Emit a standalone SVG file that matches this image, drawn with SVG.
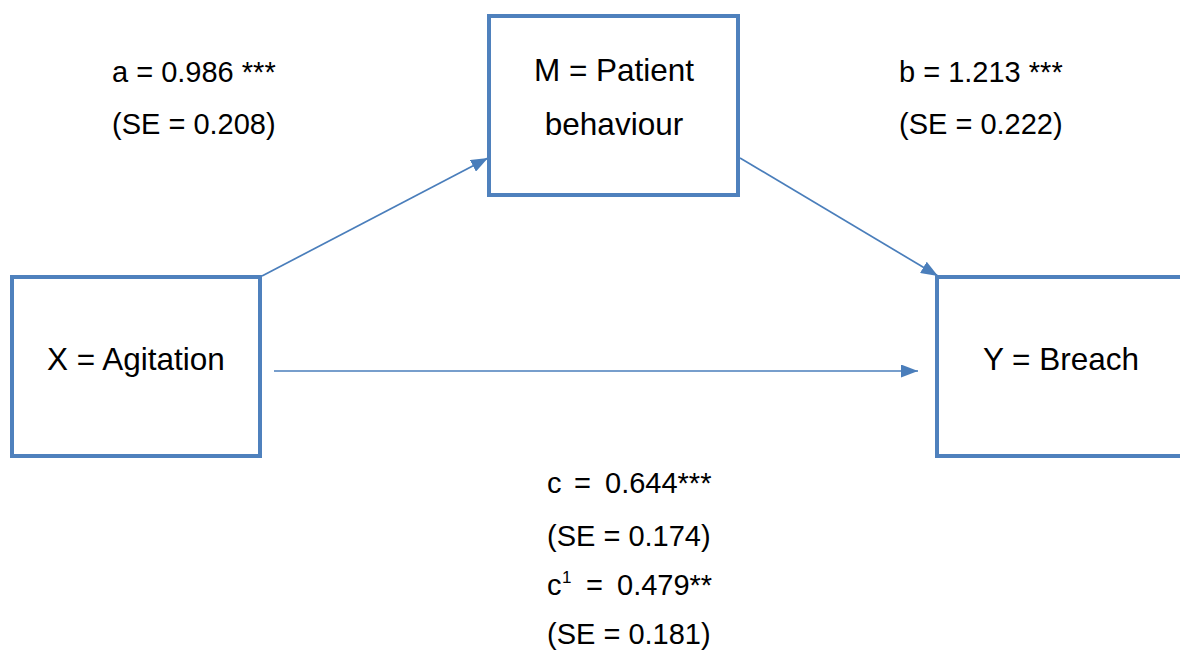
<svg xmlns="http://www.w3.org/2000/svg" width="1180" height="651" viewBox="0 0 1180 651">
<defs>
<style>
.box{fill:#fff;stroke:#4f81bd;stroke-width:4}
.lbl{font-family:"Liberation Sans",Arial,sans-serif;font-size:31.5px;fill:#000}
.est{font-family:"Liberation Sans",Arial,sans-serif;font-size:29px;fill:#000}
.con{stroke:#4a7ebb;stroke-width:1.7;fill:none;marker-end:url(#arr)}
</style>
<marker id="arr" viewBox="0 0 10 10" refX="10" refY="5" markerWidth="17" markerHeight="13" markerUnits="userSpaceOnUse" orient="auto" preserveAspectRatio="none">
<path d="M0,0 L10,5 L0,10 z" fill="#4a7ebb"/>
</marker>
</defs>
<rect width="1180" height="651" fill="#fff"/>
<g id="connectors">
<line class="con" x1="262" y1="276" x2="488" y2="158"/>
<line class="con" x1="740" y1="158" x2="938" y2="276"/>
<line class="con" x1="274" y1="371" x2="918" y2="371"/>
</g>
<g id="node-x">
<rect class="box" x="12" y="277" width="248" height="179"/>
<text class="lbl" x="136" y="370" text-anchor="middle">X = Agitation</text>
</g>
<g id="node-m">
<rect class="box" x="489" y="16" width="249" height="179"/>
<text class="lbl" x="614" y="81" text-anchor="middle">M = Patient</text>
<text class="lbl" x="614" y="135" text-anchor="middle">behaviour</text>
</g>
<g id="node-y">
<rect class="box" x="937" y="277" width="262" height="179"/>
<text class="lbl" x="1061" y="370" text-anchor="middle">Y = Breach</text>
</g>
<g id="labels">
<text class="est" x="112" y="82">a = 0.986 ***</text>
<text class="est" x="112" y="134">(SE = 0.208)</text>
<text class="est" x="899" y="82">b = 1.213 ***</text>
<text class="est" x="899" y="134">(SE = 0.222)</text>
<text class="est" y="493"><tspan x="547">c</tspan><tspan x="574">=</tspan><tspan x="605">0.644***</tspan></text>
<text class="est" x="547" y="546">(SE = 0.174)</text>
<text class="est" y="595"><tspan x="547">c</tspan><tspan x="562" y="583" style="font-size:17px">1</tspan><tspan x="586" y="595">=</tspan><tspan x="617">0.479**</tspan></text>
<text class="est" x="547" y="644">(SE = 0.181)</text>
</g>
</svg>
